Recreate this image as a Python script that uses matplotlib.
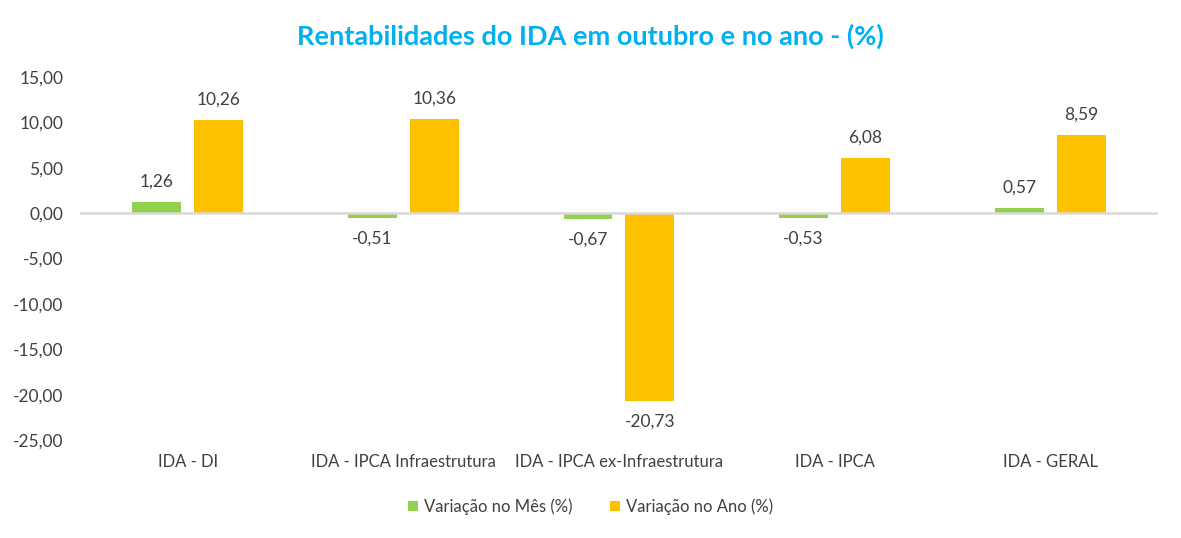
import matplotlib
matplotlib.use("Agg")
import matplotlib.pyplot as plt
import numpy as np

categories = ["IDA - DI", "IDA - IPCA Infraestrutura", "IDA - IPCA ex-Infraestrutura", "IDA - IPCA", "IDA - GERAL"]
var_mes = [1.26, -0.51, -0.67, -0.53, 0.57]
var_ano = [10.26, 10.36, -20.73, 6.08, 8.59]
series_names = ["Variação no Mês (%)", "Variação no Ano (%)"]
title = "Rentabilidades do IDA em outubro e no ano - (%)"

plt.rcParams['font.family'] = ['Lato', 'DejaVu Sans']
txt = '#404040'

fig = plt.figure(figsize=(11.81, 5.38), dpi=100)
ax = fig.add_axes([0.0677, 0.182, 0.9128, 0.675])

x = np.arange(len(categories))
w = 0.227
gap = 0.06
off = (w + gap) / 2
b1 = ax.bar(x - off, var_mes, w, color='#92D050', label=series_names[0], zorder=2)
b2 = ax.bar(x + off, var_ano, w, color='#FFC000', label=series_names[1], zorder=2)

def fmt(v):
    return f"{v:.2f}".replace('.', ',')

for bars, vals in ((b1, var_mes), (b2, var_ano)):
    for rect, v in zip(bars, vals):
        cx = rect.get_x() + rect.get_width() / 2
        if v >= 0:
            ax.annotate(fmt(v), (cx, v), xytext=(0, 9), textcoords='offset points',
                        ha='center', va='bottom', fontsize=12.5, color=txt)
        else:
            ax.annotate(fmt(v), (cx, v), xytext=(0, -9), textcoords='offset points',
                        ha='center', va='top', fontsize=12.5, color=txt)

ax.set_xlim(-0.5, len(categories) - 0.5)
ax.set_ylim(-25, 15)
ax.set_yticks(np.arange(-25, 16, 5))
ax.set_yticklabels([fmt(v) for v in np.arange(-25, 16, 5)], fontsize=12.5, color=txt)
ax.set_xticks(x)
ax.set_xticklabels(categories, fontsize=12, color=txt)
ax.tick_params(axis='both', length=0)
ax.tick_params(axis='y', pad=12)
ax.tick_params(axis='x', pad=10)
for s in ax.spines.values():
    s.set_visible(False)
ax.axhline(0, color='#D9D9D9', lw=1.8, zorder=3)

fig.text(0.5, 0.932, title, ha='center', va='center', fontsize=19.5, fontweight='bold', color='#00B0F0')

leg = fig.legend(loc='center', bbox_to_anchor=(0.5, 0.058), ncol=2, frameon=False,
                 fontsize=12, handlelength=0.6, handleheight=0.6, handletextpad=0.4,
                 columnspacing=2.2, labelcolor=txt)

fig.savefig('out.png', dpi=100, facecolor='white')
